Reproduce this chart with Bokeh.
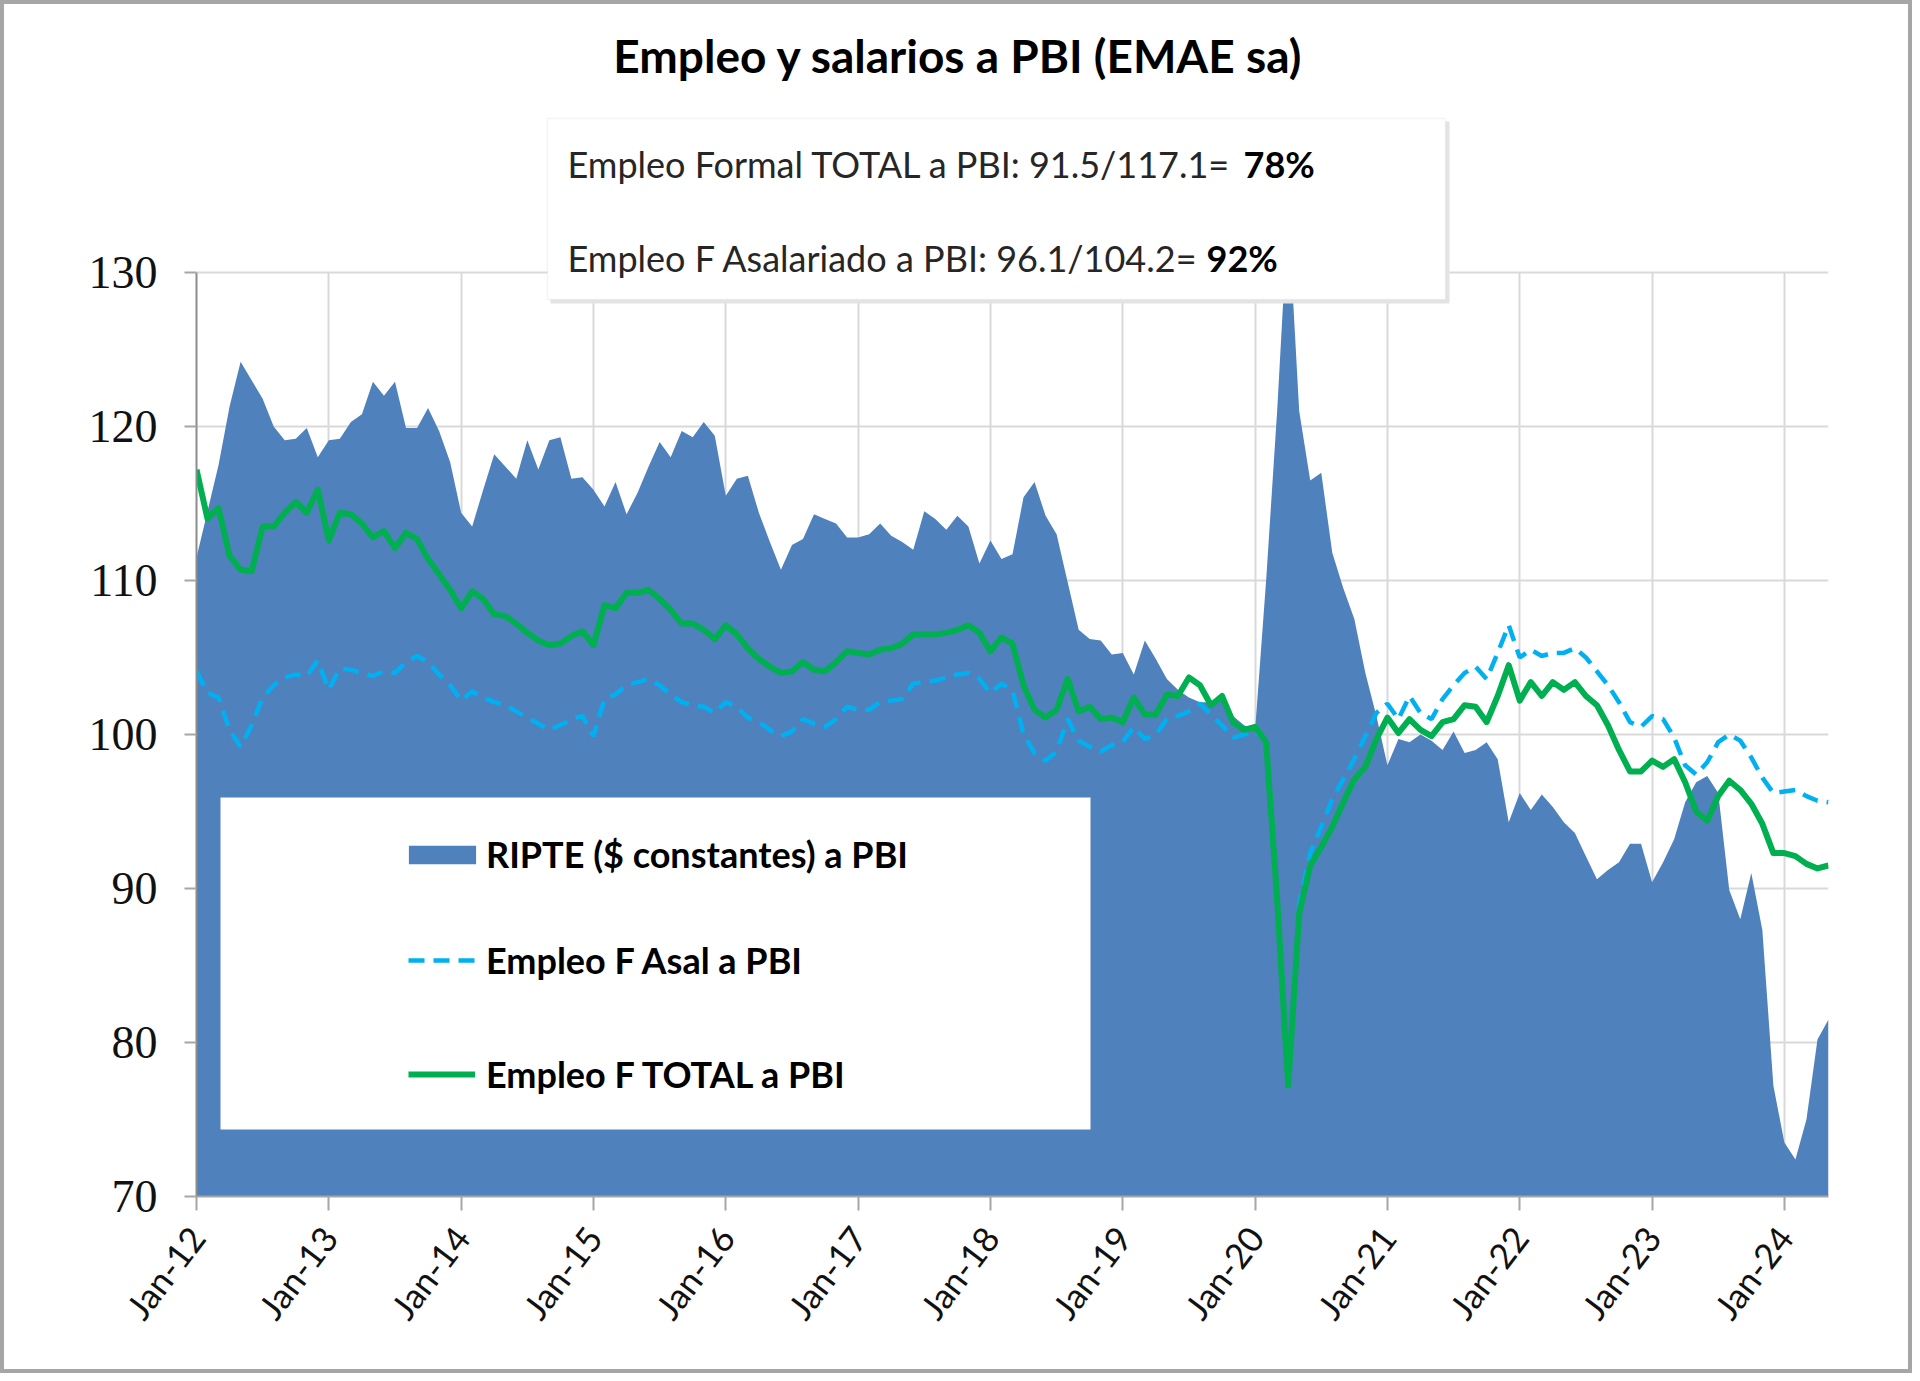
import numpy as np
from bokeh.plotting import figure
from bokeh.models import (Range1d, Label, BoxAnnotation, Legend, LegendItem,
                          FixedTicker, ColumnDataSource)
from bokeh.embed import file_html
from bokeh.resources import INLINE

# ---------------- data (monthly, Jan-12 .. May-24) ----------------
ripte = [111.5, 114.5, 117.5, 121.3, 124.2, 123.0, 121.8, 120.0, 119.1, 119.2, 119.9, 118.0,
         119.1, 119.2, 120.3, 120.8, 122.9, 122.0, 122.9, 119.9, 119.9, 121.2, 119.7, 117.7,
         114.4, 113.5, 115.9, 118.2, 117.4, 116.6, 119.1, 117.2, 119.1, 119.3, 116.6, 116.7,
         115.9, 114.8, 116.4, 114.3, 115.7, 117.4, 119.0, 118.0, 119.7, 119.3, 120.3, 119.4,
         115.5, 116.6, 116.8, 114.4, 112.5, 110.7, 112.3, 112.7, 114.3, 114.0, 113.7, 112.8,
         112.8, 113.0, 113.7, 112.9, 112.5, 112.0, 114.5, 114.0, 113.3, 114.2, 113.5, 111.1,
         112.6, 111.4, 111.7, 115.4, 116.4, 114.2, 113.0, 109.9, 106.8, 106.2, 106.1, 105.2,
         105.3, 103.9, 106.1, 104.9, 103.6, 102.9, 102.4, 102.1, 102.1, 102.3, 101.2, 100.6,
         100.3, 110.0, 121.0, 134.0, 121.0, 116.5, 117.0, 111.8, 109.5, 107.5, 104.0, 101.2,
         98.0, 99.7, 99.5, 100.0, 99.6, 99.0, 100.2, 98.8, 99.0, 99.5, 98.4, 94.3,
         96.2, 95.1, 96.1, 95.3, 94.3, 93.6, 92.1, 90.6, 91.2, 91.7, 92.9, 92.9,
         90.4, 91.7, 93.2, 95.6, 96.9, 97.3, 96.2, 89.9, 88.0, 91.0, 87.3, 77.2,
         73.5, 72.4, 75.0, 80.2, 81.5]

empleo_asal = [104.1, 102.7, 102.4, 100.3, 99.2, 100.6, 102.4, 103.2, 103.7, 103.9, 103.8, 104.8,
               102.9, 104.3, 104.2, 104.0, 103.8, 104.1, 104.0, 104.7, 105.1, 104.7, 103.9, 103.2,
               102.2, 102.8, 102.4, 102.1, 101.9, 101.5, 101.1, 100.7, 100.3, 100.6, 101.0, 101.2,
               99.9, 102.3, 102.6, 103.2, 103.4, 103.6, 103.2, 102.6, 102.1, 101.9, 101.8, 101.4,
               102.1, 101.8, 101.1, 100.8, 100.3, 99.9, 100.2, 101.0, 100.7, 100.5, 101.0, 101.8,
               101.6, 101.6, 102.1, 102.2, 102.3, 103.3, 103.4, 103.5, 103.7, 103.9, 104.0, 103.6,
               102.7, 103.3, 102.9, 100.0, 98.8, 98.3, 98.9, 101.0, 99.6, 99.2, 98.9, 99.3,
               99.5, 100.5, 99.7, 100.0, 101.0, 101.2, 101.5, 102.0, 101.3, 100.6, 99.8, 100.0,
               100.2, 99.6, 89.5, 77.5, 89.0, 92.3, 94.0, 95.8, 97.1, 98.4, 99.9, 101.4,
               102.0, 101.0, 102.5, 101.4, 101.0, 102.3, 103.2, 104.0, 104.4, 103.6, 105.3, 107.1,
               105.0, 105.5, 105.1, 105.3, 105.3, 105.6, 105.0, 104.1, 103.2, 102.1, 100.8, 100.5,
               101.2, 101.0, 99.8, 98.0, 97.4, 98.2, 99.5, 100.0, 99.6, 98.5, 97.2, 96.2,
               96.3, 96.4, 96.0, 95.7, 95.6]

empleo_total = [117.2, 114.0, 114.7, 111.6, 110.7, 110.6, 113.5, 113.5, 114.4, 115.1, 114.4, 115.9,
                112.6, 114.4, 114.3, 113.7, 112.8, 113.2, 112.1, 113.1, 112.7, 111.4, 110.4, 109.4,
                108.2, 109.3, 108.8, 107.8, 107.7, 107.2, 106.6, 106.1, 105.8, 105.9, 106.4, 106.7,
                105.8, 108.4, 108.2, 109.2, 109.2, 109.4, 108.8, 108.1, 107.2, 107.2, 106.8, 106.2,
                107.1, 106.5, 105.6, 104.9, 104.4, 104.0, 104.1, 104.7, 104.2, 104.1, 104.7, 105.4,
                105.3, 105.2, 105.5, 105.6, 105.9, 106.5, 106.5, 106.5, 106.6, 106.8, 107.1, 106.6,
                105.4, 106.3, 105.9, 103.2, 101.6, 101.1, 101.6, 103.6, 101.5, 101.8, 101.0, 101.1,
                100.8, 102.4, 101.3, 101.3, 102.6, 102.5, 103.7, 103.2, 101.9, 102.5, 100.8, 100.3,
                100.5, 99.5, 89.3, 77.2, 88.4, 91.5, 92.7, 94.0, 95.6, 97.1, 97.9, 99.7,
                101.1, 100.1, 101.0, 100.3, 99.9, 100.8, 101.0, 101.9, 101.8, 100.8, 102.5, 104.5,
                102.2, 103.4, 102.5, 103.4, 102.9, 103.4, 102.5, 101.9, 100.6, 99.0, 97.6, 97.6,
                98.3, 97.9, 98.4, 96.9, 95.0, 94.4, 96.0, 97.0, 96.4, 95.5, 94.2, 92.3,
                92.3, 92.1, 91.6, 91.3, 91.5]

tick_labels = ["Jan-12", "Jan-13", "Jan-14", "Jan-15", "Jan-16", "Jan-17", "Jan-18",
               "Jan-19", "Jan-20", "Jan-21", "Jan-22", "Jan-23", "Jan-24"]
y_ticks = [70, 80, 90, 100, 110, 120, 130]

series_names = ["RIPTE ($ constantes) a PBI", "Empleo F Asal a PBI", "Empleo F TOTAL a PBI"]
title_text = "Empleo y salarios a PBI (EMAE sa)"
box_line1 = ("Empleo Formal TOTAL a PBI: 91.5/117.1= ", "78%")
box_line2 = ("Empleo F Asalariado a PBI: 96.1/104.2=", "92%")

# ---------------- layout geometry (page pixels) ----------------
BORDER = 4
W, H = 1920 - 2 * BORDER, 1381 - 2 * BORDER
FR_L, FR_R, FR_B = 196, 1828, 1196          # plot area edges on the page
Y130 = 272                                    # page y of the top tick (130)
ppu_y = (FR_B - Y130) / (y_ticks[-1] - y_ticks[0])
n = len(ripte)
ppu_x = (FR_R - FR_L) / (n - 1)
y_top = y_ticks[-1] + (Y130 - BORDER) / ppu_y  # frame extends to canvas top

def dx(page_x):
    return (page_x - FR_L) / ppu_x

def dy(page_y):
    return y_ticks[-1] - (page_y - Y130) / ppu_y

x = np.arange(n)
src = ColumnDataSource(dict(x=x, ripte=ripte, asal=empleo_asal, total=empleo_total,
                            base=[y_ticks[0]] * n))

p = figure(width=W, height=H, output_backend="svg", toolbar_location=None,
           x_range=Range1d(0, n - 1), y_range=Range1d(y_ticks[0], y_top),
           min_border_left=FR_L - BORDER, min_border_right=1920 - BORDER - FR_R,
           min_border_top=0, min_border_bottom=1381 - BORDER - FR_B,
           background_fill_color="white", border_fill_color="white")
p.styles = {"border": f"{BORDER}px solid #a6a6a6"}
p.outline_line_color = None

FONT = "Lato"
xt = [12 * k for k in range(len(tick_labels))]

# grids
p.xgrid.ticker = FixedTicker(ticks=xt)
p.ygrid.ticker = FixedTicker(ticks=y_ticks)
p.xgrid.cross_bounds = (y_ticks[0], y_ticks[-1])
for g in (p.xgrid, p.ygrid):
    g.grid_line_color = "#d9d9d9"
    g.grid_line_width = 2

# axes
p.xaxis.ticker = FixedTicker(ticks=xt)
p.xaxis.major_label_overrides = {t: lab for t, lab in zip(xt, tick_labels)}
p.xaxis.major_label_orientation = 0.92
p.xaxis.major_label_text_font = FONT
p.xaxis.major_label_text_font_size = "35px"
p.xaxis.major_label_text_color = "#111111"
p.xaxis.major_label_standoff = 20
p.xaxis.major_tick_out = 14
p.xaxis.major_tick_in = 0
p.xaxis.minor_tick_line_color = None
p.xaxis.axis_line_color = "#a6a6a6"
p.xaxis.major_tick_line_color = "#a6a6a6"
p.xaxis.axis_line_width = 2
p.xaxis.major_tick_line_width = 2

p.yaxis.ticker = FixedTicker(ticks=y_ticks)
p.yaxis.bounds = (y_ticks[0], y_ticks[-1])
p.yaxis.major_label_text_font = "Liberation Serif"
p.yaxis.major_label_text_font_size = "46px"
p.yaxis.major_label_text_color = "#111111"
p.yaxis.major_label_standoff = 27
p.yaxis.major_tick_out = 12
p.yaxis.major_tick_in = 0
p.yaxis.minor_tick_line_color = None
p.yaxis.axis_line_color = "#8c8c8c"
p.yaxis.major_tick_line_color = "#a6a6a6"
p.yaxis.axis_line_width = 2
p.yaxis.major_tick_line_width = 2

# series
r_area = p.varea(x="x", y1="base", y2="ripte", source=src, fill_color="#4f81bd")
r_asal = p.line(x="x", y="asal", source=src, line_color="#00b0f0", line_width=4.5,
                line_dash="16 9")
r_total = p.line(x="x", y="total", source=src, line_color="#00b050", line_width=6,
                 line_join="round")

# legend background box
p.add_layout(BoxAnnotation(left=dx(220), right=dx(1090), top=dy(797), bottom=dy(1129),
                           fill_color="white", fill_alpha=1.0, line_color=None))

LEG_FONT_SIZE = "36px"
common = dict(padding=0, margin=0, label_height=40, label_text_font=FONT,
              label_text_font_style="bold", label_text_font_size=LEG_FONT_SIZE,
              label_text_color="#000000", background_fill_alpha=0.0, border_line_color=None)
# patch legend (area glyph is drawn inset by 10%, so widen the glyph box)
leg_a = Legend(items=[LegendItem(label=series_names[0], renderers=[r_area])],
               location=(408 - 8 - FR_L, FR_B - 876), glyph_width=84, glyph_height=23,
               label_standoff=486 - (408 - 8) - 84, spacing=0, **common)
leg_b = Legend(items=[LegendItem(label=series_names[1], renderers=[r_asal]),
                      LegendItem(label=series_names[2], renderers=[r_total])],
               location=(408 - FR_L, FR_B - 1096), glyph_width=67, glyph_height=20,
               label_standoff=11, spacing=70, **common)
p.add_layout(leg_a, "center")
p.add_layout(leg_b, "center")

# annotation box above the plot
p.add_layout(BoxAnnotation(left=dx(550), right=dx(1449), top=dy(121), bottom=dy(303),
                           fill_color="#e3e3e3", fill_alpha=1.0, line_color=None))
p.add_layout(BoxAnnotation(left=dx(547), right=dx(1445), top=dy(118), bottom=dy(299),
                           fill_color="white", fill_alpha=1.0, line_color="#d9d9d9",
                           line_width=1.5))

def lab(txt, px, py, size, style="normal", align="left", color="#262626"):
    p.add_layout(Label(x=dx(px), y=dy(py), text=txt, text_font=FONT, text_font_size=size,
                       text_font_style=style, text_align=align, text_baseline="middle",
                       text_color=color))

lab(title_text, 958, 55, "46px", "bold", "center", "#000000")
lab(box_line1[0], 567, 163, "36px")
lab(box_line1[1], 1243, 163, "36px", "bold", color="#000000")
lab(box_line2[0], 567, 257, "36px")
lab(box_line2[1], 1206, 257, "36px", "bold", color="#000000")

open("out.html", "w").write(file_html(p, INLINE))
